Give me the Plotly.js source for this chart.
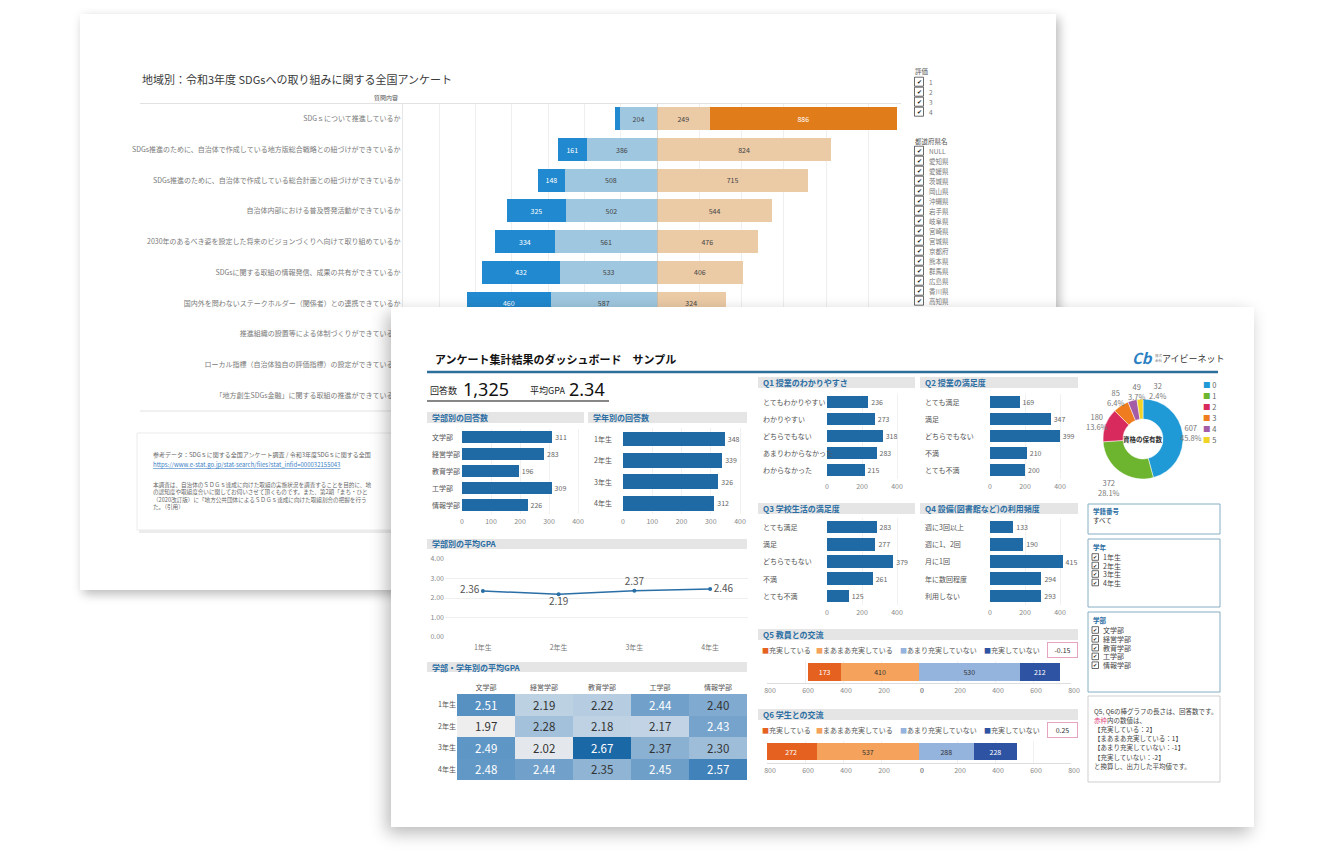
<!DOCTYPE html>
<html><head><meta charset="utf-8">
<script src="https://cdn.plot.ly/plotly-3.0.1.min.js"></script>
<style>
html,body{margin:0;padding:0;background:#fff;width:1334px;height:855px;overflow:hidden;}
#back{position:absolute;left:80px;top:14px;width:976px;height:576px;background:#fff;box-shadow:3px 4px 10px rgba(0,0,0,0.28);z-index:1;}
#front{position:absolute;left:391px;top:307px;width:863px;height:520px;background:#fff;box-shadow:-4px 6px 16px rgba(0,0,0,0.28);z-index:2;}
</style></head><body>
<div id="back"></div><div id="front"></div>
<script>
// ================= DATA =================
// Back chart: 地域別 SDGs アンケート (rows 8-10 are covered by the front card: values not readable)
const sdgQuestions = [
  'SDGｓについて推進しているか',
  'SDGs推進のために、自治体で作成している地方版総合戦略との紐づけができているか',
  'SDGs推進のために、自治体で作成している総合計画との紐づけができているか',
  '自治体内部における普及啓発活動ができているか',
  '2030年のあるべき姿を設定した将来のビジョンづくりへ向けて取り組めているか',
  'SDGsに関する取組の情報発信、成果の共有ができているか',
  '国内外を問わないステークホルダー（関係者）との連携できているか',
  '推進組織の設置等による体制づくりができているか',
  'ローカル指標（自治体独自の評価指標）の設定ができているか',
  '「地方創生SDGs金融」に関する取組の推進ができているか'
];
const rating1 = [30, 161, 148, 325, 334, 432, 460, null, null, null];
const rating2 = [204, 386, 508, 502, 561, 533, 587, null, null, null];
const rating3 = [249, 824, 715, 544, 476, 406, 324, null, null, null];
const rating4 = [886, 0, 0, 0, 0, 0, 0, null, null, null];
const ratingNames = ['1', '2', '3', '4'];
const prefectures = ['NULL','愛知県','愛媛県','茨城県','岡山県','沖縄県','岩手県','岐阜県','宮崎県','宮城県','京都府','熊本県','群馬県','広島県','香川県','高知県'];

// Front dashboard
const facultyNames = ['文学部','経営学部','教育学部','工学部','情報学部'];
const facultyCounts = [311, 283, 196, 309, 226];
const gradeNames = ['1年生','2年生','3年生','4年生'];
const gradeCounts = [348, 339, 326, 312];
const q1Labels = ['とてもわかりやすい','わかりやすい','どちらでもない','あまりわからなかった','わからなかった'];
const q1Counts = [236, 273, 318, 283, 215];
const q2Labels = ['とても満足','満足','どちらでもない','不満','とても不満'];
const q2Counts = [169, 347, 399, 210, 200];
const q3Labels = ['とても満足','満足','どちらでもない','不満','とても不満'];
const q3Counts = [283, 277, 379, 261, 125];
const q4Labels = ['週に3回以上','週に1、2回','月に1回','年に数回程度','利用しない'];
const q4Counts = [133, 190, 415, 294, 293];
const gpaByGrade = [2.36, 2.19, 2.37, 2.46];
const gpaMatrix = [
  [2.51, 2.19, 2.22, 2.44, 2.40],
  [1.97, 2.28, 2.18, 2.17, 2.43],
  [2.49, 2.02, 2.67, 2.37, 2.30],
  [2.48, 2.44, 2.35, 2.45, 2.57]
];
const avgGPA = 2.34;
const qualLabels = ['0','1','2','3','4','5'];
const qualCounts = [607, 372, 180, 85, 49, 32];
const exchangeLabels = ['充実している','まあまあ充実している','あまり充実していない','充実していない'];
const exchangeWeights = [2, 1, -1, -2];
const q5Counts = [173, 410, 530, 212];
const q6Counts = [272, 537, 288, 228];
const studentIdFilter = 'すべて';

// ================= STYLE =================
const FONT = '"Noto Sans CJK JP", "Noto Sans", sans-serif';
const BAR = '#1f6aa5';
const qualColors = ['#1f9ad6','#6db52f','#d92a5e','#ef7d1f','#a45ca7','#f1d325'];
const exchangeColors = ['#e4611f','#f5a35c','#94b4de','#2f53a3'];
const exchangeText = ['#fff','#333','#333','#fff'];
const ratingColors = ['#2189cf','#9fc7df','#ebcaa6','#e17c1b'];
const ratingText = ['#fff','#444','#444','#fff'];

// ================= BACK CARD =================
const BL=80, BT=14, BW=976, BH=576;
const bx = x => (x-BL)/BW, by = y => 1-(y-BT)/BH;
const bAnn=[], bShapes=[], bTraces=[];
function bText(x,y,text,size,color,anchor,extra){
  bAnn.push(Object.assign({xref:'paper',yref:'paper',x:bx(x),y:by(y),text:text,showarrow:false,
    xanchor:anchor||'left',yanchor:'middle',font:{size:size,color:color}},extra||{}));
}
function bRect(x0,y0,x1,y1,fill,line,lw){
  bShapes.push({type:'rect',xref:'paper',yref:'paper',x0:bx(x0),x1:bx(x1),y0:by(y0),y1:by(y1),
    fillcolor:fill||'rgba(0,0,0,0)',line:{color:line||'rgba(0,0,0,0)',width:lw||0},layer:'below'});
}
function bLine(x0,y0,x1,y1,color,w){
  bShapes.push({type:'line',xref:'paper',yref:'paper',x0:bx(x0),x1:bx(x1),y0:by(y0),y1:by(y1),line:{color:color,width:w||1}});
}
const bLabel = v => (v != null && v >= 60) ? String(v) : '';
const ratingVals = [rating1, rating2, rating3, rating4];
// left side: rating 2 nearest centre, then rating 1
[[1,'x'],[0,'x'],[2,'x2'],[3,'x2']].forEach(([r,ax])=>{
  bTraces.push({type:'bar',orientation:'h',x:ratingVals[r],y:sdgQuestions,xaxis:ax,yaxis:'y',
    name:ratingNames[r],marker:{color:ratingColors[r]},width:0.75,
    text:ratingVals[r].map(bLabel),textposition:'inside',insidetextanchor:'middle',textangle:0,
    textfont:{size:7,color:ratingText[r]},hoverinfo:'skip'});
});
const bLayout = {
  width:BW,height:BH,margin:{l:0,r:0,t:0,b:0},paper_bgcolor:'#fff',plot_bgcolor:'rgba(0,0,0,0)',
  font:{family:FONT,size:7,color:'#666'},showlegend:false,barmode:'stack',
  xaxis:{domain:[bx(403),bx(657)],anchor:'y',range:[1400,0],dtick:200,showgrid:true,gridcolor:'#efefef',
    zeroline:false,showticklabels:false,ticks:'',fixedrange:true},
  xaxis2:{domain:[bx(657),bx(901)],anchor:'y',range:[0,1154],dtick:200,showgrid:true,gridcolor:'#efefef',
    zeroline:false,showticklabels:false,ticks:'',fixedrange:true},
  yaxis:{domain:[by(410.5),by(103.5)],anchor:'x',type:'category',categoryorder:'array',categoryarray:sdgQuestions,
    autorange:'reversed',showgrid:false,zeroline:false,
    showline:true,linecolor:'#e6e6e6',ticks:'',tickfont:{size:7,color:'#7a7a7a'}},
  annotations:bAnn,shapes:bShapes
};
bShapes.push({type:'line',xref:'x2',yref:'paper',x0:0,x1:0,y0:by(410.5),y1:by(103.5),line:{color:'#b0b0b0',width:1}});
bLine(140,103.5,901,103.5,'#e2e2e2',1);
bLine(140,411,901,411,'#e2e2e2',1);
bText(140,79,'地域別：令和3年度 SDGsへの取り組みに関する全国アンケート',11,'#3a3a3a');
bText(400,97.5,'質問内容',6,'#555','right');
// filter legend
bText(913,71,'評価',6.5,'#555');
function bCheck(x,y,label){
  bRect(x,y-4.5,x+9,y+4.5,'#fff','#444',0.8);
  bText(x+4.5,y,'✔',5.5,'#222','center');
  bText(x+12,y,label,6.5,'#777');
}
ratingNames.forEach((r,i)=>bCheck(914.5,81.7+i*10,r));
bText(913,141,'都道府県名',6.5,'#555');
prefectures.forEach((p,i)=>bCheck(914.5,150.7+i*10,p));
// source box (only the visible part of the text is kept)
bRect(139,435,577,533,'#ececec');
bRect(137,433,575,530,'#fff','#ebebeb',1);
bText(151,454,'参考データ：SDGｓに関する全国アンケート調査 / 令和3年度SDGｓに関する全国',6,'#666');
bText(151,464,'<u>https://www.e-stat.go.jp/stat-search/files?stat_infid=000032155043</u>',6,'#3b7fc6');
bText(151,479,'本調査は、自治体のＳＤＧｓ達成に向けた取組の実施状況を調査することを目的に、地<br>' +
  'の認知度や取組度合いに関してお伺いさせて頂くものです。また、第2期「まち・ひと<br>' +
  '（2020改訂版）に「地方公共団体によるＳＤＧｓ達成に向けた取組割合の把握を行う<br>' +
  'た。（引用）',5.6,'#666','left',{yanchor:'top',align:'left'});
Plotly.newPlot('back', bTraces, bLayout, {staticPlot:true});

// ================= FRONT CARD =================
const FL=391, FT=307, FW=863, FH=520;
const fx = x => (x-FL)/FW, fy = y => 1-(y-FT)/FH;
const fAnn=[], fShapes=[], fTraces=[];
const fLayout = {
  width:FW,height:FH,margin:{l:0,r:0,t:0,b:0},paper_bgcolor:'#fff',plot_bgcolor:'rgba(0,0,0,0)',
  font:{family:FONT,size:7,color:'#555'},showlegend:false,barmode:'stack',
  annotations:fAnn,shapes:fShapes
};
function fText(x,y,text,size,color,anchor,extra){
  fAnn.push(Object.assign({xref:'paper',yref:'paper',x:fx(x),y:fy(y),text:text,showarrow:false,
    xanchor:anchor||'left',yanchor:'middle',font:{size:size,color:color}},extra||{}));
}
function fRect(x0,y0,x1,y1,fill,line,lw){
  fShapes.push({type:'rect',xref:'paper',yref:'paper',x0:fx(x0),x1:fx(x1),y0:fy(y0),y1:fy(y1),
    fillcolor:fill||'rgba(0,0,0,0)',line:{color:line||'rgba(0,0,0,0)',width:lw||0},layer:'below'});
}
function fLine(x0,y0,x1,y1,color,w){
  fShapes.push({type:'line',xref:'paper',yref:'paper',x0:fx(x0),x1:fx(x1),y0:fy(y0),y1:fy(y1),line:{color:color,width:w||1}});
}
const axN = (n,t) => n===1 ? t+'axis' : t+'axis'+n;
const axR = (n,t) => n===1 ? t : t+n;

function hbar(n,cats,vals,x0,ppu,xmax,dtick,y0,y1,labelX,width){
  fLayout[axN(n,'x')] = {domain:[fx(x0),fx(x0+xmax*ppu)],anchor:axR(n,'y'),range:[0,xmax],dtick:dtick,
    showgrid:true,gridcolor:'#f1f1f1',zeroline:false,showline:false,ticks:'',ticklabelstandoff:2,
    tickfont:{size:7,color:'#888'},fixedrange:true};
  fLayout[axN(n,'y')] = {domain:[fy(y1),fy(y0)],anchor:axR(n,'x'),type:'category',autorange:'reversed',
    showticklabels:false,showgrid:false,zeroline:false,ticks:''};
  fTraces.push({type:'bar',orientation:'h',x:vals,y:cats,xaxis:axR(n,'x'),yaxis:axR(n,'y'),
    marker:{color:BAR},width:width,text:vals.map(String),textposition:'outside',
    textfont:{size:7,color:'#666'},cliponaxis:false,hoverinfo:'skip'});
  cats.forEach(c=>fAnn.push({xref:'paper',x:fx(labelX),xanchor:'left',yref:axR(n,'y'),y:c,text:c,
    showarrow:false,font:{size:7,color:'#555'}}));
}
hbar(1,facultyNames,facultyCounts,462,0.29,420,100,428.5,513.5,430,0.76);
hbar(2,gradeNames,gradeCounts,623,0.2925,420,100,428.3,513.7,592,0.7);
hbar(3,q1Labels,q1Counts,827,0.175,430,200,393.5,478.5,761,0.74);
hbar(4,q2Labels,q2Counts,990,0.175,430,200,393.5,478.5,923,0.74);
hbar(5,q3Labels,q3Counts,827,0.175,430,200,518.4,604.6,761,0.74);
hbar(6,q4Labels,q4Counts,990,0.175,430,200,518.4,604.6,923,0.74);

// GPA line
fLayout.xaxis7 = {domain:[fx(445),fx(748)],anchor:'y7',type:'category',range:[-0.5,3.5],showgrid:false,
  zeroline:false,ticks:'',ticklabelstandoff:5,tickfont:{size:7,color:'#777'}};
fLayout.yaxis7 = {domain:[fy(637),fy(559)],anchor:'x7',range:[0,4],dtick:1,tickformat:'.2f',showgrid:true,
  gridcolor:'#efefef',zeroline:false,ticks:'',tickfont:{size:7,color:'#888'}};
fTraces.push({type:'scatter',mode:'lines+markers+text',x:gradeNames,y:gpaByGrade,xaxis:'x7',yaxis:'y7',
  line:{color:'#2a6ea6',width:1.5},marker:{color:'#2a6ea6',size:4},
  text:gpaByGrade.map(v=>v.toFixed(2)),textposition:['middle left','bottom center','top center','middle right'],
  textfont:{size:10,color:'#555'},cliponaxis:false,hoverinfo:'skip'});

// Heatmap
fLayout.xaxis8 = {domain:[fx(457),fx(747)],anchor:'y8',type:'category',side:'top',showgrid:false,zeroline:false,
  ticks:'',ticklabelstandoff:2,tickfont:{size:7,color:'#555'}};
fLayout.yaxis8 = {domain:[fy(780),fy(694)],anchor:'x8',type:'category',autorange:'reversed',showgrid:false,
  zeroline:false,ticks:'',tickfont:{size:7,color:'#555'}};
fTraces.push({type:'heatmap',z:gpaMatrix,x:facultyNames,y:gradeNames,xaxis:'x8',yaxis:'y8',
  zmin:1.97,zmax:2.67,showscale:false,hoverinfo:'skip',
  colorscale:[[0,'#eeeeee'],[0.12,'#dde4ea'],[0.35,'#b6cde1'],[0.6,'#84acd0'],[0.8,'#4f8dc0'],[1,'#1a68a6']]});
gpaMatrix.forEach((row,i)=>row.forEach((v,j)=>{
  fAnn.push({xref:'x8',yref:'y8',x:facultyNames[j],y:gradeNames[i],text:v.toFixed(2),showarrow:false,
    font:{size:11.5,color: v>2.41 ? '#ffffff' : '#333333'}});
}));

// Q5 / Q6 diverging bars
function diverge(nL,nR,vals,y0,y1){
  const common = {dtick:200,showgrid:true,gridcolor:'#f0f0f0',zeroline:false,showline:true,linecolor:'#dddddd',
    ticks:'',ticklabelstandoff:1,tickfont:{size:7,color:'#888'},fixedrange:true};
  fLayout[axN(nL,'x')] = Object.assign({domain:[fx(767),fx(919)],anchor:axR(nL,'y'),range:[800,0],ticklabelshift:-3},common);
  fLayout[axN(nR,'x')] = Object.assign({domain:[fx(919),fx(1071)],anchor:axR(nL,'y'),range:[0,800],ticklabelshift:3},common);
  fLayout[axN(nL,'y')] = {domain:[fy(y1),fy(y0)],anchor:axR(nL,'x'),type:'category',showticklabels:false,
    showgrid:false,zeroline:false,ticks:''};
  [[1,nL],[0,nL],[2,nR],[3,nR]].forEach(([k,n])=>{
    fTraces.push({type:'bar',orientation:'h',x:[vals[k]],y:['回答'],xaxis:axR(n,'x'),yaxis:axR(nL,'y'),
      marker:{color:exchangeColors[k]},width:0.8,text:[String(vals[k])],textposition:'inside',
      insidetextanchor:'middle',textangle:0,textfont:{size:7,color:exchangeText[k]},hoverinfo:'skip'});
  });
}
diverge(9,10,q5Counts,661,683);
diverge(11,12,q6Counts,740.5,762.5);
const totalResponses = facultyCounts.reduce((a,b)=>a+b,0);
const avgScore = vals => vals.reduce((s,v,i)=>s+v*exchangeWeights[i],0)/vals.reduce((a,b)=>a+b,0);
[[q5Counts,650],[q6Counts,730]].forEach(([vals,y])=>{
  const legX = [760,814,898,982];
  exchangeLabels.forEach((l,i)=>fText(legX[i],y,'<span style="color:'+exchangeColors[i]+'">■</span>'+l,7,'#555'));
  fText(1062,y,avgScore(vals).toFixed(2),7,'#333','center',{bordercolor:'#e8a3bf',borderwidth:1,width:27,height:12,bgcolor:'#fff'});
});

// Donut
const pieCx = 1143, pieCy = 439, pieR = 40;
fTraces.push({type:'pie',labels:qualLabels,values:qualCounts,hole:0.5,sort:false,direction:'clockwise',rotation:0,
  domain:{x:[fx(pieCx-pieR),fx(pieCx+pieR)],y:[fy(pieCy+pieR),fy(pieCy-pieR)]},
  marker:{colors:qualColors,line:{color:'#fff',width:0.5}},textinfo:'none',hoverinfo:'skip',showlegend:false});
// outside labels derived from slice mid-angles, with a simple collision pass
(function(){
  const total = qualCounts.reduce((a,b)=>a+b,0);
  let cum = 0; const pos = [];
  qualCounts.forEach((v,i)=>{
    const th = 2*Math.PI*(cum + v/2)/total; cum += v;
    const c = Math.cos(th), s = Math.sin(th);
    const R = 48 + 14*Math.max(0,-c) + 4*Math.max(0,-s)*Math.max(0,c);
    let x = pieCx + R*s, y = pieCy - R*c;
    for (let k=0;k<pos.length;k++){
      const p = pos[k];
      if (Math.abs(p.y-y) < 18 && Math.abs(p.x-x) < 21) x = p.x + 21;
    }
    pos.push({x:x,y:y});
    fText(x,y,v+'<br>'+(100*v/total).toFixed(1)+'%',7.5,'#777','center');
  });
})();
fText(pieCx,pieCy,'<b>資格の保有数</b>',6.5,'#333','center');
qualLabels.forEach((l,i)=>fText(1201,384.5+i*11,'<span style="color:'+qualColors[i]+'">■</span> '+l,7.5,'#666'));

// Header
fText(433,359,'<b>アンケート集計結果のダッシュボード　サンプル</b>',11,'#111');
fText(1142,358,'<b><i>Cb</i></b>',15,'#2b7fc3','center');
fText(1153,358,'株式<br>会社',3.5,'#777','left');
fText(1160,359,'アイビーネット',9,'#333');
fLine(427,372,1218,372,'#2d6f9b',2.5);
fText(428,391,'回答数',9,'#222');
fText(461,389,totalResponses.toLocaleString('en-US'),18,'#111','left',{font:{size:18,color:'#111',family:'"Noto Sans", sans-serif'}});
fText(528,391,'平均GPA',9,'#222');
fText(567,389,avgGPA.toFixed(2),18,'#111','left',{font:{size:18,color:'#111',family:'"Noto Sans", sans-serif'}});
fLine(427,401,609,401,'#111',1.2);

// Section headers
[['学部別の回答数',427,412,584,423],['学年別の回答数',588,412,747,423],
 ['Q1 授業のわかりやすさ',758,377,915,388],['Q2 授業の満足度',920,377,1078,388],
 ['Q3 学校生活の満足度',758,503,915,514],['Q4 設備(図書館など)の利用頻度',920,503,1078,514],
 ['学部別の平均GPA',427,539,747,549],['学部・学年別の平均GPA',427,662,747,672],
 ['Q5 教員との交流',758,629,1078,640],['Q6 学生との交流',758,709,1078,720]
].forEach(([t,x0,y0,x1,y1])=>{
  fRect(x0,y0,x1,y1,'#e5e5e5');
  fText(x0+3,(y0+y1)/2,'<b>'+t+'</b>',8,'#2b6ea3');
});

// Filter boxes
function fCheck(x,y,label){
  fRect(x,y-3.3,x+6.5,y+3.3,'#fff','#444',0.8);
  fText(x+3.25,y,'✔',4.5,'#222','center');
  fText(x+9,y,label,7,'#444');
}
fRect(1088,504,1220,534,null,'#86aec6',1);
fText(1091,511,'<b>学籍番号</b>',6.5,'#2b6ea3');
fText(1091,519.5,studentIdFilter,6.5,'#333');
fRect(1088,539,1220,607,null,'#86aec6',1);
fText(1091,547,'<b>学年</b>',6.5,'#2b6ea3');
gradeNames.forEach((g,i)=>fCheck(1092,557+i*8.5,g));
fRect(1088,612,1220,692,null,'#86aec6',1);
fText(1091,620,'<b>学部</b>',6.5,'#2b6ea3');
facultyNames.forEach((g,i)=>fCheck(1092,630+i*8.8,g));
fRect(1088,696,1220,782,null,'#cfcfcf',1);
['Q5, Q6の棒グラフの長さは、回答数です。',
 '<span style="color:#e0407a">赤枠</span>内の数値は、',
 '【充実している：2】','【まあまあ充実している：1】','【あまり充実していない：-1】','【充実していない：-2】',
 'と換算し、出力した平均値です。'
].forEach((t,i)=>fText(1092,711+i*9.1,t,6.5,'#444'));

Plotly.newPlot('front', fTraces, fLayout, {staticPlot:true});
</script>
</body></html>
